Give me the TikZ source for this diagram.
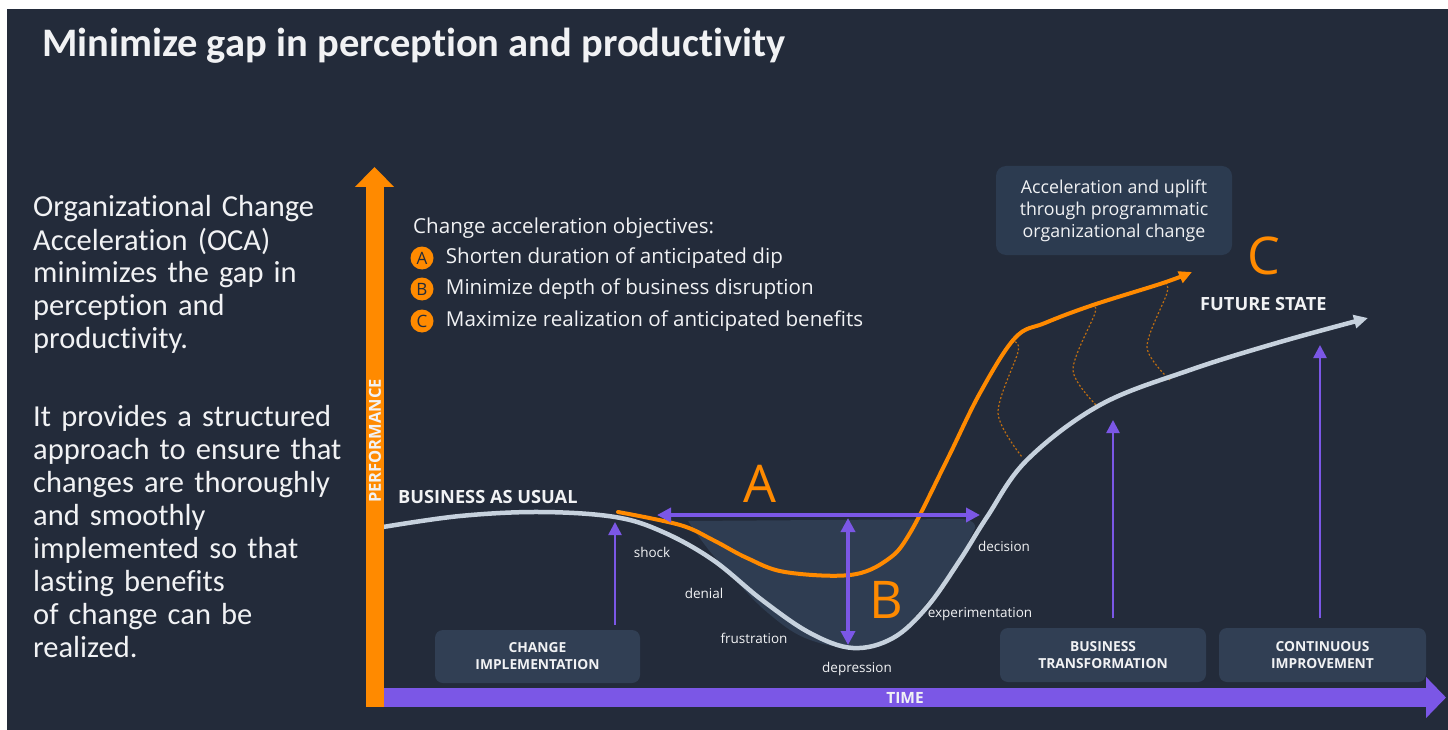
\documentclass[tikz,border=0pt]{standalone}
\usepackage{fontspec}
\setmainfont{Carlito}[Ligatures=NoCommon]
\newfontfamily\labelfont{Open Sans}
\usetikzlibrary{arrows.meta,calc,positioning}

\definecolor{bgdark}{HTML}{232B3A}
\definecolor{boxfill}{HTML}{313F54}
\definecolor{calloutfill}{HTML}{2C3B50}
\definecolor{dipshade}{HTML}{2F3D52}
\definecolor{accorange}{HTML}{FF8A00}
\definecolor{accpurple}{HTML}{7B57E6}
\definecolor{curvegray}{HTML}{C6D1DD}
\definecolor{txtwhite}{HTML}{F1F2F4}

\tikzset{
	stagebox/.style={fill=boxfill, rounded corners=8pt, minimum width=206pt, minimum height=54pt, align=center, text=txtwhite, font=\labelfont\bfseries\fontsize{13.8}{17}\selectfont},
	phase/.style={text=txtwhite, inner sep=0pt, font=\labelfont\fontsize{13.5}{16}\selectfont},
	capslabel/.style={text=txtwhite, inner sep=0pt, font=\labelfont\bfseries\fontsize{18.2}{20}\selectfont},
	bigletter/.style={text=accorange, inner sep=0pt, font=\labelfont\fontsize{52}{56}\selectfont},
	objcircle/.style={circle, fill=accorange, minimum size=23pt, inner sep=0pt, text=bgdark, font=\labelfont\fontsize{17}{18}\selectfont},
	objtext/.style={text=txtwhite, inner sep=0pt, font=\labelfont\fontsize{20.6}{24}\selectfont},
	sidetext/.style={text=txtwhite, inner sep=0pt, text width=330pt, align=left, font=\fontsize{30.5}{33}\selectfont},
	uparrow/.style={accpurple, line width=2.5pt, -{Triangle[length=13pt,width=13pt]}},
	dbarrow/.style={accpurple, line width=3.5pt, {Triangle[length=14pt,width=14pt]}-{Triangle[length=14pt,width=14pt]}},
	uplift/.style={accorange!70!bgdark, line width=1.2pt, dash pattern=on 2pt off 2pt},
}

\begin{document}
\begin{tikzpicture}[x=1pt,y=-1pt]
	\useasboundingbox (0,0) rectangle (1448,730);
	\fill[white] (0,0) rectangle (1448,730);
	\fill[bgdark] (7,9) rectangle (1448,730);

	% title and side text
	\node[anchor=base west, inner sep=0pt, text=txtwhite, font=\bfseries\fontsize{40.5}{44}\selectfont] (title) at (42,57) {Minimize gap in perception and productivity};
	\node[sidetext, anchor=base west] (intro) at (33,217) {Organizational Change\\Acceleration (OCA)\\minimizes the gap in\\perception and\\productivity.};
	\node[sidetext, anchor=base west] (approach) at (33,426) {It provides a structured\\approach to ensure that\\changes are thoroughly\\and smoothly\\implemented so that\\lasting benefits\\of change can be\\realized.};

	% objectives
	\node[objtext, anchor=west] (objhead) at (413,228) {Change acceleration objectives:};
	\node[objcircle] (objA) at (422,258) {A};
	\node[objcircle] (objB) at (422,289) {B};
	\node[objcircle] (objC) at (422,321) {C};
	\node[objtext, right=12pt of objA] (objAtext) {Shorten duration of anticipated dip};
	\node[objtext, right=12pt of objB] (objBtext) {Minimize depth of business disruption};
	\node[objtext, right=12pt of objC] (objCtext) {Maximize realization of anticipated benefits};

	% dip area
	\fill[dipshade] plot[smooth, tension=0.6] coordinates {(975,528) (957,562) (925,605) (892,636) (853,648) (805,638) (768,613) (737,582) (708,549) (688,521)} -- (960,519) to[out=0,in=80] (975,528) -- cycle;

	% uplift traces
	\draw[uplift] plot[smooth] coordinates {(1015,342) (1018,352) (998,413) (1022,457)};
	\draw[uplift] plot[smooth] coordinates {(1092,305) (1095,313) (1073,370) (1098,407)};
	\draw[uplift] plot[smooth] coordinates {(1165,283) (1167,293) (1147,347) (1170,380)};

	% business curve
	\draw[curvegray, line width=4.5pt, line cap=round, -{Triangle[length=14pt,width=13pt]}] plot[smooth, tension=0.6] coordinates {(383,527) (460,516) (540,512) (615,517) (663,532) (713,560) (762,600) (810,633) (853,648) (893,638) (927,607) (960,560) (987,517) (1027,460) (1100,405) (1190,370) (1280,342) (1368,318)};
	% accelerated curve
	\draw[accorange, line width=4pt, line cap=round, -{Triangle[length=13pt,width=12pt]}] plot[smooth, tension=0.6] coordinates {(618,512) (680,525) (713,540) (747,558) (785,572) (850,575) (887,560) (910,533) (947,460) (980,393) (1015,338) (1045,323) (1093,305) (1163,283) (1192,272)};

	\coordinate (dipStart) at (657,515);
	\coordinate (dipEnd) at (980,515);
	\coordinate (depthTop) at (848,518);
	\coordinate (depthLow) at (848,645);
	\draw[dbarrow] (dipStart) -- (dipEnd);
	\draw[dbarrow] (depthTop) -- (depthLow);

	\node[bigletter] (letA) at (760,484) {A};
	\node[bigletter] (letB) at (886,600) {B};
	\node[bigletter] (letC) at (1264,256) {C};

	\node[phase] (shock) at (652,552) {shock};
	\node[phase] (denial) at (704,593) {denial};
	\node[phase] (frustration) at (754,638) {frustration};
	\node[phase] (depression) at (857,669) {depression};
	\node[phase] (experiment) at (980,614) {experimentation};
	\node[phase] (decision) at (1004,546) {decision};

	\node[capslabel, anchor=west] (usual) at (398,497) {BUSINESS AS USUAL};
	\node[capslabel, anchor=west] (future) at (1200,304) {FUTURE STATE};

	\node[fill=calloutfill, rounded corners=10pt, minimum width=236pt, minimum height=89pt, align=center, text=txtwhite, font=\labelfont\fontsize{17.8}{22}\selectfont] (callout) at (1114,210.5) {Acceleration and uplift\\through programmatic\\organizational change};

	% stages
	\node[stagebox, minimum width=205pt, minimum height=53pt] (impl) at (537.5,656.5) {CHANGE\\IMPLEMENTATION};
	\node[stagebox] (transf) at (1103,655) {BUSINESS\\TRANSFORMATION};
	\node[stagebox, minimum width=207pt] (improve) at (1322.5,655) {CONTINUOUS\\IMPROVEMENT};
	\coordinate (implTip) at (615,522);
	\coordinate (transfTip) at (1113,420);
	\coordinate (improveTip) at (1320,345);
	\draw[uparrow, shorten <=5pt] (impl.north -| implTip) -- (implTip);
	\draw[uparrow, shorten <=10pt] (transf.north -| transfTip) -- (transfTip);
	\draw[uparrow, shorten <=10pt] (improve.north -| improveTip) -- (improveTip);

	% axes
	\coordinate (origin) at (374.5,707);
	\coordinate (perfTop) at (374.5,167);
	\coordinate (timeStart) at (383,697.5);
	\coordinate (timeEnd) at (1446,697.5);
	\draw[accpurple, line width=19pt, -{Triangle[length=20pt,width=40pt]}] (timeStart) -- (timeEnd);
	\draw[accorange, line width=18pt, -{Triangle[length=20pt,width=38pt]}] (origin) -- (perfTop);
	\node[capslabel, rotate=90, font=\labelfont\bfseries\fontsize{16.5}{18}\selectfont] (perf) at (375,441) {PERFORMANCE};
	\node[capslabel, font=\labelfont\bfseries\fontsize{15.5}{17}\selectfont] (time) at (905,697.5) {TIME};
\end{tikzpicture}
\end{document}
